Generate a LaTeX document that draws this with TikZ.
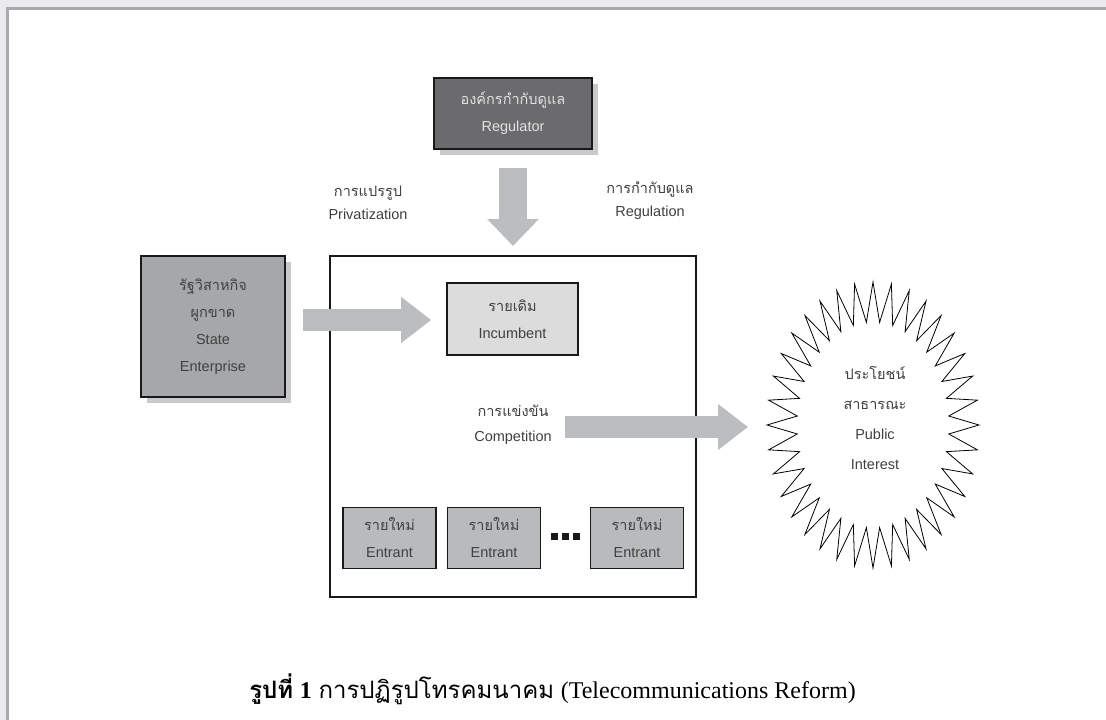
\documentclass[tikz,border=0pt]{standalone}
\usepackage{fontspec}
\setmainfont{Liberation Sans}
\newfontfamily\thaifont[Script=Thai]{Loma}
\newfontfamily\capserif{Liberation Serif}
\usetikzlibrary{arrows.meta,shadows}
\definecolor{pagegray}{HTML}{EBEBED}
\definecolor{rulegray}{HTML}{A9A9AB}
\definecolor{darkfill}{HTML}{6B6B6D}
\definecolor{midfill}{HTML}{A6A7A9}
\definecolor{entfill}{HTML}{B9BABC}
\definecolor{lightfill}{HTML}{DCDCDD}
\definecolor{shadowgray}{HTML}{C9C9CB}
\definecolor{arrowgray}{HTML}{BCBDBF}
\definecolor{txtgray}{HTML}{404040}
\definecolor{lighttxt}{HTML}{E2E2E2}
\tikzset{
  box/.style={draw=black!90, line width=1.6pt, inner sep=0pt, align=center,
    font=\fontsize{14.5}{27}\selectfont, text=txtgray},
  shadowed/.style={drop shadow={shadow xshift=6pt, shadow yshift=-6pt,
    fill=shadowgray, opacity=1}},
  label/.style={align=center, font=\fontsize{14.5}{23}\selectfont, text=txtgray},
  blockarrow/.style={draw=arrowgray, fill=arrowgray, line width=#1,
    -{Triangle[width=2*#1, length=30pt]}},
  blockarrow/.default=22pt
}
\begin{document}
\begin{tikzpicture}[x=1pt, y=-1pt]
% page background and frame rules
\fill[pagegray] (0,0) rectangle (1106,720);
\fill[white] (9,10) rectangle (1106,720);
\fill[rulegray] (6,7) rectangle (1106,10);
\fill[rulegray] (6,7) rectangle (9,720);
\useasboundingbox (0,0) rectangle (1106,720);

% regulator
\node[box, shadowed, fill=darkfill, minimum width=158pt, minimum height=71pt, text=lighttxt]
  (reg) at (513,113.5) {{\thaifont องค์กรกำกับดูแล}\\Regulator};

% market box
\node[draw=black!90, line width=2pt, minimum width=366pt, minimum height=341pt, inner sep=0pt]
  (market) at (513,426.5) {};

% state enterprise
\node[box, shadowed, fill=midfill, minimum width=144pt, minimum height=141pt]
  (state) at (213,326.5) {{\thaifont รัฐวิสาหกิจ}\\{\thaifont ผูกขาด}\\State\\Enterprise};

% incumbent
\node[box, fill=lightfill, minimum width=131pt, minimum height=72pt]
  (inc) at (512.5,319) {{\thaifont รายเดิม}\\Incumbent};

% entrants
\node[box, fill=entfill, minimum width=93pt, minimum height=61pt]
  (ent1) at (389.5,538) {{\thaifont รายใหม่}\\Entrant};
\node[box, fill=entfill, minimum width=93pt, minimum height=61pt]
  (ent2) at (494,538) {{\thaifont รายใหม่}\\Entrant};
\node[box, fill=entfill, minimum width=93pt, minimum height=61pt]
  (ent3) at (637,538) {{\thaifont รายใหม่}\\Entrant};
\foreach \x in {554,565,576}
  \fill[black!90] (\x-3.5,533) rectangle (\x+3.5,540);

% public interest starburst
\coordinate (pc) at (873,425);
\draw[line width=0.8pt] (979,425)
  \foreach \i in {1,...,36} {
    -- ({873+76*cos((\i-0.5)*10)},{425+103*sin((\i-0.5)*10)})
    -- ({873+106*cos(\i*10)},{425+143*sin(\i*10)})
  } -- cycle;
\node[label, font=\fontsize{14.5}{30}\selectfont] (pub) at (875,418)
  {{\thaifont ประโยชน์}\\{\thaifont สาธารณะ}\\Public\\Interest};
\coordinate (pubw) at (767,427);

% labels
\node[label] (priv) at (368,203) {{\thaifont การแปรรูป}\\Privatization};
\node[label] (regn) at (650,201) {{\thaifont การกำกับดูแล}\\Regulation};
\node[label, font=\fontsize{14.5}{25}\selectfont] (comp) at (513,425) {{\thaifont การแข่งขัน}\\Competition};

% block arrows
\draw[blockarrow=28pt, -{Triangle[width=50pt, length=27pt]}, shorten <=18pt, shorten >=9pt]
  (reg.south) -- (market.north);
\coordinate (privstart) at (303,320);
\draw[blockarrow, shorten >=15pt] (privstart) -- (inc.west |- privstart);
\coordinate (compstart) at (565,427);
\draw[blockarrow, shorten >=19pt] (compstart) -- (pubw);

% caption
\node[anchor=center, text=black, font=\fontsize{24}{28}\selectfont] (cap) at (552.5,689)
  {{\thaifont\bfseries รูปที่} {\capserif\bfseries 1} {\thaifont การปฏิรูปโทรคมนาคม} {\capserif (Telecommunications Reform)}};
\end{tikzpicture}
\end{document}
